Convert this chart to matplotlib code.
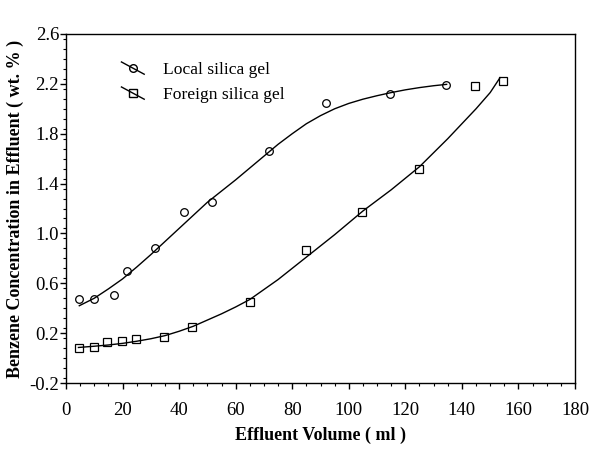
import numpy as np
import matplotlib
matplotlib.use("Agg")
import matplotlib.pyplot as plt
from matplotlib.ticker import MultipleLocator
from matplotlib.legend_handler import HandlerLine2D

plt.rcParams['font.family'] = ['Liberation Serif', 'DejaVu Serif']

# measured points
local_x = [4.6, 9.9, 16.9, 21.4, 31.4, 41.8, 51.7, 71.9, 91.8, 114.6, 134.5]
local_y = [0.47, 0.47, 0.51, 0.70, 0.88, 1.17, 1.25, 1.66, 2.05, 2.12, 2.19]

foreign_x = [4.6, 9.9, 14.6, 19.8, 24.6, 34.5, 44.4, 65.0, 84.9, 104.5, 124.7, 144.7, 154.6]
foreign_y = [0.08, 0.09, 0.13, 0.14, 0.15, 0.17, 0.25, 0.45, 0.87, 1.17, 1.52, 2.18, 2.22]

# fitted curves
local_fit_x = [4.7, 10, 15, 20, 25, 30, 40, 50, 60, 70, 75, 80, 85, 90, 95, 100,
               105, 110, 115, 120, 125, 130, 134.6]
local_fit_y = [0.42, 0.48, 0.555, 0.635, 0.73, 0.83, 1.04, 1.25, 1.43, 1.62, 1.715,
               1.80, 1.88, 1.945, 2.0, 2.043, 2.077, 2.105, 2.13, 2.152, 2.17, 2.185, 2.196]

foreign_fit_x = [4.4, 10, 15, 20, 25, 30, 35, 40, 45, 50, 55, 60, 65, 75, 85, 95,
                 105, 115, 125, 135, 145, 150, 153.5]
foreign_fit_y = [0.085, 0.095, 0.105, 0.118, 0.135, 0.155, 0.18, 0.215, 0.255, 0.305,
                 0.355, 0.41, 0.47, 0.63, 0.81, 0.99, 1.18, 1.35, 1.535, 1.76, 2.0,
                 2.13, 2.25]


class SlantedLine(HandlerLine2D):
    # legend key drawn as a short diagonal stroke through the marker
    def create_artists(self, legend, orig_handle, xdescent, ydescent, width,
                       height, fontsize, trans):
        artists = super().create_artists(legend, orig_handle, xdescent, ydescent,
                                         width, height, fontsize, trans)
        line = artists[0]
        mid = (height - ydescent) / 2
        d = 0.5 * height
        n = len(line.get_xdata())
        line.set_ydata(np.linspace(mid + d, mid - d, n))
        return artists


fig = plt.figure(figsize=(5.94, 4.51), dpi=100)
ax = fig.add_axes([66 / 594, 1 - 383 / 451, 509 / 594, 349 / 451])

ax.plot(local_fit_x, local_fit_y, color='black', linewidth=1.0)
ax.plot(foreign_fit_x, foreign_fit_y, color='black', linewidth=1.0)
ax.plot(local_x, local_y, linestyle='none', marker='o', markersize=5.5,
        markerfacecolor='none', markeredgecolor='black', markeredgewidth=0.9)
ax.plot(foreign_x, foreign_y, linestyle='none', marker='s', markersize=5.5,
        markerfacecolor='none', markeredgecolor='black', markeredgewidth=0.9)

h1, = ax.plot([], [], color='black', linewidth=1.0, marker='o', markersize=5.5,
              markerfacecolor='none', markeredgecolor='black')
h2, = ax.plot([], [], color='black', linewidth=1.0, marker='s', markersize=5.5,
              markerfacecolor='none', markeredgecolor='black')
ax.legend([h1, h2], ['Local silica gel', 'Foreign silica gel'],
          handler_map={h1: SlantedLine(), h2: SlantedLine()},
          loc='upper left', bbox_to_anchor=(0.078, 0.965), frameon=False,
          fontsize=12.6, handlelength=1.3, handletextpad=1.1, labelspacing=0.5,
          borderpad=0.4)

ax.set_xlim(0, 180)
ax.set_ylim(-0.2, 2.6)
ax.xaxis.set_major_locator(MultipleLocator(20))
ax.xaxis.set_minor_locator(MultipleLocator(5))
ax.yaxis.set_minor_locator(MultipleLocator(0.08))
ax.set_yticks(np.arange(-0.2, 2.61, 0.4))
ax.set_yticklabels(['-0.2', '0.2', '0.6', '1.0', '1.4', '1.8', '2.2', '2.6'])

ax.tick_params(axis='both', which='major', direction='out', length=4, width=1,
               labelsize=13.5)
ax.tick_params(axis='x', which='major', pad=10)
ax.tick_params(axis='y', which='major', pad=1)
ax.tick_params(axis='both', which='minor', direction='out', length=2, width=0.8)
ax.tick_params(top=False, right=False, which='both')
for sp in ax.spines.values():
    sp.set_linewidth(1.0)

ax.set_xlabel('Effluent Volume ( ml )', fontsize=13, fontweight='bold', labelpad=5)
ax.set_ylabel('Benzene Concentration in Effluent ( wt. % )', fontsize=13,
              fontweight='bold', labelpad=4)

fig.savefig('out.png', dpi=100)
